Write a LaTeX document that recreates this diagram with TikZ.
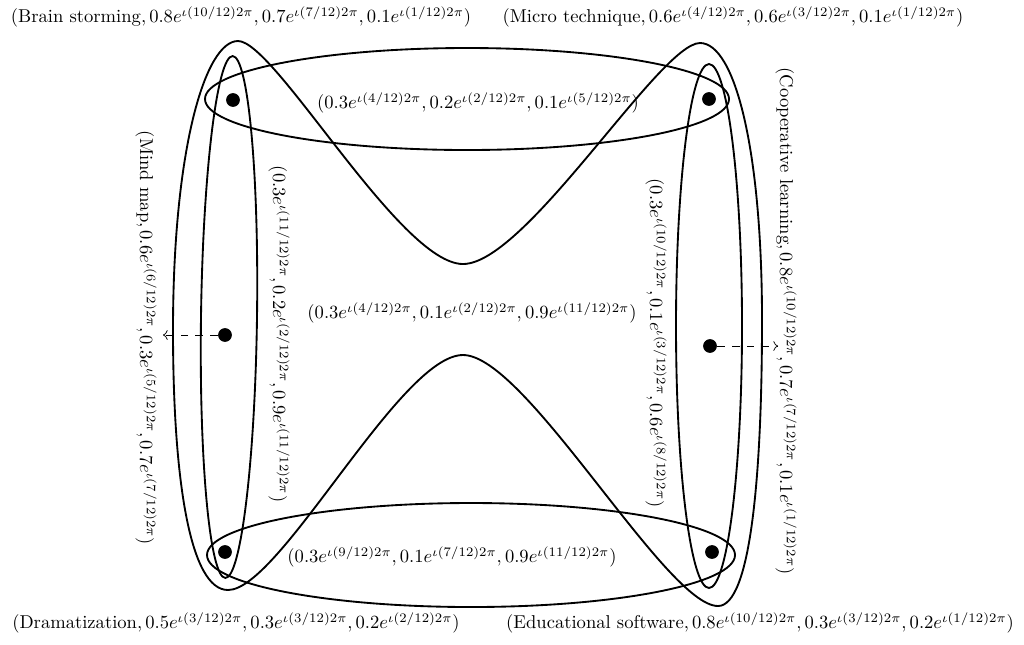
\documentclass[tikz,border=0pt]{standalone}
\usepackage{amsmath,amssymb}
\usepackage{tikz}
\usetikzlibrary{positioning,arrows.meta}

\begin{document}
\begin{tikzpicture}[
x=0.0189cm,y=-0.0189cm,
dot/.style={circle,fill,inner sep=0pt,minimum size=0.26cm},
edge/.style={line width=1pt},
lab/.style={inner sep=1pt},
side/.style={inner sep=1pt,rotate=-90},
arrow/.style={->,dashed,dash pattern=on 4pt off 4pt}
]

\useasboundingbox (0,0) rectangle (1024,644);

% vertices
\node[dot] (brain) at (233,100) {};
\node[dot] (micro) at (709,99) {};
\node[dot] (mind) at (225,335) {};
\node[dot] (coop) at (710,346) {};
\node[dot] (drama) at (225,552) {};
\node[dot] (soft) at (712,552) {};

% hyperedges
\draw[edge] (467,99) ellipse [x radius=262, y radius=51];
\draw[edge] (471,555) ellipse [x radius=264, y radius=52];
\draw[edge,rotate around={-0.8:(229,317)}] (229,317) ellipse [x radius=28, y radius=261];
\draw[edge] (709,326) ellipse [x radius=33, y radius=262];
\draw[edge] (238,41) .. controls (275,41) and (400,264) .. (463,264)
  .. controls (526,264) and (660,43) .. (700,43)
  .. controls (735,43) and (762,150) .. (762,320)
  .. controls (762,480) and (750,606) .. (718,606)
  .. controls (666,606) and (526,355) .. (463,355)
  .. controls (400,355) and (280,590) .. (228,590)
  .. controls (190,590) and (173,480) .. (173,330)
  .. controls (173,150) and (205,41) .. cycle;

% vertex labels
\node[lab] (brainlab) at (241,17) {$(\text{Brain storming}, 0.8e^{\iota(10/12)2\pi}, 0.7e^{\iota(7/12)2\pi}, 0.1e^{\iota(1/12)2\pi})$};
\node[lab] (microlab) at (733,17) {$(\text{Micro technique}, 0.6e^{\iota(4/12)2\pi}, 0.6e^{\iota(3/12)2\pi}, 0.1e^{\iota(1/12)2\pi})$};
\node[lab] (dramalab) at (236,623) {$(\text{Dramatization}, 0.5e^{\iota(3/12)2\pi}, 0.3e^{\iota(3/12)2\pi}, 0.2e^{\iota(2/12)2\pi})$};
\node[lab] (softlab) at (760,623) {$(\text{Educational software}, 0.8e^{\iota(10/12)2\pi}, 0.3e^{\iota(3/12)2\pi}, 0.2e^{\iota(1/12)2\pi})$};
\node[side] (mindlab) at (146,338) {$(\text{Mind map}, 0.6e^{\iota(6/12)2\pi}, 0.3e^{\iota(5/12)2\pi}, 0.7e^{\iota(7/12)2\pi})$};
\node[side] (cooplab) at (786,321) {$(\text{Cooperative learning}, 0.8e^{\iota(10/12)2\pi}, 0.7e^{\iota(7/12)2\pi}, 0.1e^{\iota(1/12)2\pi})$};

% edge labels
\node[lab] (toplab) at (478,103) {$(0.3e^{\iota(4/12)2\pi}, 0.2e^{\iota(2/12)2\pi}, 0.1e^{\iota(5/12)2\pi})$};
\node[lab] (botlab) at (452,557) {$(0.3e^{\iota(9/12)2\pi}, 0.1e^{\iota(7/12)2\pi}, 0.9e^{\iota(11/12)2\pi})$};
\node[lab] (midlab) at (472,313) {$(0.3e^{\iota(4/12)2\pi}, 0.1e^{\iota(2/12)2\pi}, 0.9e^{\iota(11/12)2\pi})$};
\node[side] (leftlab) at (279,334) {$(0.3e^{\iota(11/12)2\pi}, 0.2e^{\iota(2/12)2\pi}, 0.9e^{\iota(11/12)2\pi})$};
\node[side] (rightlab) at (656,343) {$(0.3e^{\iota(10/12)2\pi}, 0.1e^{\iota(3/12)2\pi}, 0.6e^{\iota(8/12)2\pi})$};

% pointers
\coordinate (mindend) at (163,335);
\coordinate (coopend) at (778,346);
\draw[arrow] (mind) -- (mindend);
\draw[arrow] (coop) -- (coopend);

\end{tikzpicture}
\end{document}
